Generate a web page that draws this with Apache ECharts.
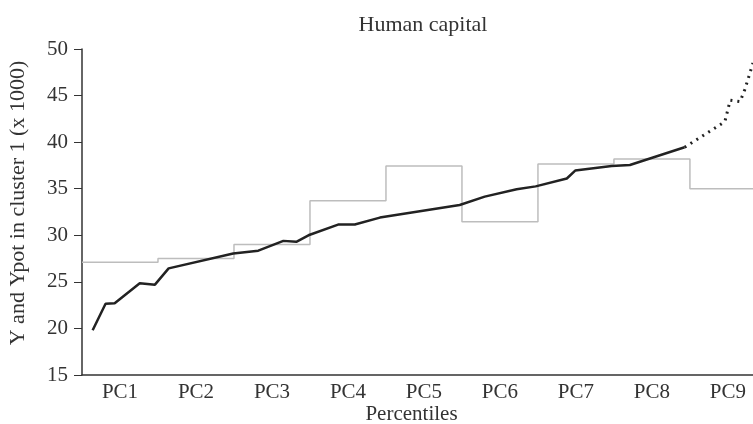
<!DOCTYPE html>
<html>
<head>
<meta charset="utf-8">
<script src="https://cdn.jsdelivr.net/npm/echarts@6/dist/echarts.min.js"></script>
<style>
  html, body { margin: 0; padding: 0; background: #fff; }
  #main { width: 753px; height: 424px; }
</style>
</head>
<body>
<div id="main"></div>
<script>
var categories = ['PC1', 'PC2', 'PC3', 'PC4', 'PC5', 'PC6', 'PC7', 'PC8', 'PC9'];

// potential income per percentile class (grey steps)
var ypot = [27.1, 27.5, 29.0, 33.7, 37.45, 31.45, 37.65, 38.2, 35.0];

// actual income, solid part (x in percentile-class units)
var yX = [0.14, 0.31, 0.43, 0.76, 0.96, 1.14, 1.99, 2.32, 2.65, 2.82, 2.98, 3.37, 3.59, 3.92, 4.97, 5.30, 5.72, 5.97, 6.38, 6.49, 6.97, 7.21, 7.93];
var yV = [19.8, 22.65, 22.7, 24.85, 24.7, 26.45, 28.05, 28.35, 29.4, 29.3, 30.0, 31.15, 31.15, 31.9, 33.25, 34.15, 34.95, 35.25, 36.1, 36.95, 37.45, 37.55, 39.45];

// actual income, dotted top part
var dotX = [7.93, 8.46, 8.53, 8.66, 8.72, 8.77, 8.83];
var dotV = [39.45, 42.2, 44.5, 44.35, 45.6, 46.9, 48.5];

// right edge of the visible plot, in class units (the figure is cut off inside PC9)
var xMax = 8.83;

var stepData = [];
for (var i = 0; i < ypot.length; i++) {
  stepData.push([i, ypot[i]]);
}
stepData.push([ypot.length, ypot[ypot.length - 1]]);

var solidData = [];
for (var i = 0; i < yX.length; i++) {
  solidData.push([yX[i], yV[i]]);
}
var dotData = [];
for (var i = 0; i < dotX.length; i++) {
  dotData.push([dotX[i], dotV[i]]);
}

var labelPos = [];
for (var i = 0; i < categories.length; i++) {
  labelPos.push(i + 0.5);
}

var font = '"Liberation Serif", "DejaVu Serif", serif';
var myChart = echarts.init(document.getElementById('main'));
var option = {
  animation: false,
  title: {
    text: 'Human capital',
    left: 418,
    top: 9,
    textAlign: 'center',
    textStyle: { fontFamily: font, fontSize: 22, fontWeight: 'normal', color: '#333' }
  },
  grid: { left: 82, right: 0, top: 49, bottom: 49, outerBoundsMode: 'none', containLabel: false },
  xAxis: {
    type: 'value',
    min: 0,
    max: xMax,
    name: 'Percentiles',
    nameLocation: 'middle',
    nameGap: 29,
    nameMoveOverlap: false,
    nameTextStyle: { fontFamily: font, fontSize: 21, color: '#333', padding: [0, 12, 0, 0] },
    axisLine: { show: true, lineStyle: { color: '#333', width: 1.5 } },
    axisTick: { show: false },
    axisLabel: {
      fontFamily: font, fontSize: 21, color: '#333', margin: 7,
      customValues: labelPos,
      formatter: function (v) { return categories[Math.floor(v)]; }
    },
    splitLine: { show: false }
  },
  yAxis: {
    type: 'value',
    min: 15,
    max: 50,
    interval: 5,
    name: 'Y and Ypot in cluster 1 (x 1000)',
    nameLocation: 'middle',
    nameGap: 53,
    nameMoveOverlap: false,
    nameTextStyle: { fontFamily: font, fontSize: 22, color: '#333', padding: [0, 0, 0, 18] },
    axisLine: { show: true, lineStyle: { color: '#333', width: 1.5 } },
    axisTick: { show: true, length: 8, lineStyle: { color: '#333' } },
    axisLabel: { fontFamily: font, fontSize: 21, color: '#333', margin: 14 },
    splitLine: { show: false }
  },
  series: [
    {
      name: 'Ypot',
      type: 'line',
      step: 'end',
      data: stepData,
      showSymbol: false,
      lineStyle: { color: '#bdbdbd', width: 1.5 }
    },
    {
      name: 'Y',
      type: 'line',
      data: solidData,
      showSymbol: false,
      lineStyle: { color: '#222', width: 2.5 }
    },
    {
      name: 'Y top',
      type: 'line',
      data: dotData,
      showSymbol: false,
      lineStyle: { color: '#222', width: 3, type: [2, 5] }
    }
  ]
};
myChart.setOption(option);
</script>
</body>
</html>
